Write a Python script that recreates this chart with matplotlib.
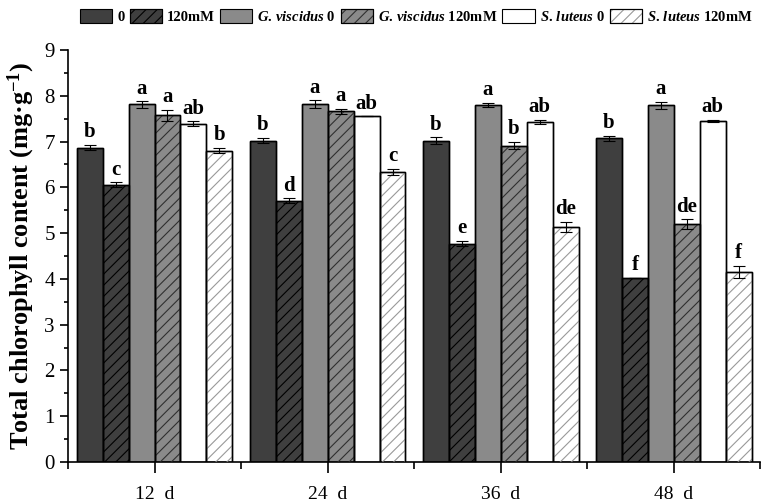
import numpy as np
import matplotlib
matplotlib.use("Agg")
import matplotlib.pyplot as plt
from matplotlib.patches import Patch
from matplotlib.legend_handler import HandlerTuple
from matplotlib.ticker import MultipleLocator, FixedLocator

plt.rcParams['font.family'] = ['Liberation Serif', 'DejaVu Serif']
plt.rcParams['mathtext.fontset'] = 'custom'
plt.rcParams['mathtext.rm'] = 'Liberation Serif:bold'
plt.rcParams['mathtext.it'] = 'Liberation Serif:bold:italic'
plt.rcParams['mathtext.bf'] = 'Liberation Serif:bold'
plt.rcParams['hatch.linewidth'] = 0.8

# data
days = ["12  d", "24  d", "36  d", "48  d"]
series = ["0", "120mM", "$G.\\,viscidus$ 0", "$G.\\,viscidus$ 120mM",
          "$S.\\,luteus$ 0", "$S.\\,luteus$ 120mM"]
ctrl = [6.87, 7.02, 7.02, 7.07]
ctrl_salt = [6.06, 5.71, 4.77, 4.02]
gv = [7.81, 7.82, 7.80, 7.79]
gv_salt = [7.57, 7.66, 6.91, 5.20]
sl = [7.39, 7.55, 7.43, 7.45]
sl_salt = [6.80, 6.34, 5.13, 4.16]
ctrl_err = [0.06, 0.06, 0.07, 0.05]
ctrl_salt_err = [0.05, 0.05, 0.06, 0.01]
gv_err = [0.07, 0.08, 0.05, 0.08]
gv_salt_err = [0.12, 0.05, 0.08, 0.10]
sl_err = [0.05, 0.00, 0.05, 0.03]
sl_salt_err = [0.06, 0.06, 0.11, 0.13]
letters = [["b", "b", "b", "b"],
           ["c", "d", "e", "f"],
           ["a", "a", "a", "a"],
           ["a", "a", "b", "de"],
           ["ab", "ab", "ab", "ab"],
           ["b", "c", "de", "f"]]

vals = [ctrl, ctrl_salt, gv, gv_salt, sl, sl_salt]
errs = [ctrl_err, ctrl_salt_err, gv_err, gv_salt_err, sl_err, sl_salt_err]
faces = ["#3f3f3f", "#3f3f3f", "#8a8a8a", "#8a8a8a", "white", "white"]
hatches = [None, "///", None, "///", None, "///"]
hcols = ["black", "black", "#303030", "#303030", "#999999", "#999999"]

fig = plt.figure(figsize=(7.68, 5.04), dpi=100)
ax = fig.add_axes([0.0885, 0.0833, 0.9015, 0.8175])

x = np.arange(len(days))
w = 0.15
handles = []
for i in range(6):
    pos = x + (i - 2.5) * w
    ax.bar(pos, vals[i], w, color=faces[i], edgecolor="black", linewidth=1.0, zorder=2)
    if hatches[i]:
        ax.bar(pos, vals[i], w, color="none", edgecolor=hcols[i], hatch=hatches[i],
               linewidth=0, zorder=3)
    ax.bar(pos, vals[i], w, color="none", edgecolor="black", linewidth=1.0, zorder=4)
    ax.errorbar(pos, vals[i], yerr=errs[i], fmt="none", ecolor="black",
                elinewidth=0.8, capsize=4, capthick=0.8, zorder=5)
    for j in range(len(days)):
        ax.text(pos[j], vals[i][j] + errs[i][j] + 0.06, letters[i][j],
                ha="center", va="bottom", fontsize=15, fontweight="bold")
    face = Patch(facecolor=faces[i], edgecolor="black", linewidth=0.8)
    if hatches[i]:
        hp = Patch(facecolor="none", edgecolor=hcols[i], hatch="///", linewidth=0)
        handles.append((face, hp, Patch(facecolor="none", edgecolor="black", linewidth=0.8)))
    else:
        handles.append(face)

ax.set_xlim(-0.5, 3.5)
ax.set_ylim(0, 9)
ax.set_xticks(x)
ax.set_xticklabels(days, fontsize=14)
ax.xaxis.set_minor_locator(FixedLocator([-0.5, 0.5, 1.5, 2.5, 3.5]))
ax.yaxis.set_major_locator(MultipleLocator(1))
ax.yaxis.set_minor_locator(MultipleLocator(0.5))
ax.tick_params(axis="x", which="major", length=8, width=1.2, pad=9)
ax.tick_params(axis="x", which="minor", length=5, width=1.2)
ax.tick_params(axis="y", which="major", length=6, width=1.2, labelsize=15)
ax.tick_params(axis="y", which="minor", length=3, width=1.2)
for s in ["top", "right"]:
    ax.spines[s].set_visible(False)
for s in ["left", "bottom"]:
    ax.spines[s].set_linewidth(1.2)

ax.set_ylabel("Total chlorophyll content (mg·g$^{-1}$)", fontsize=19,
              fontweight="bold", labelpad=5)

fig.legend(handles, series, loc="upper right", bbox_to_anchor=(0.995, 1.005),
           ncol=6, frameon=False, handler_map={tuple: HandlerTuple(ndivide=1, pad=0)},
           prop={"weight": "bold", "size": 10.5}, handlelength=2.2, handleheight=1.1,
           handletextpad=0.35, columnspacing=0.35, borderpad=0.3)

fig.savefig("out.png", dpi=100)
